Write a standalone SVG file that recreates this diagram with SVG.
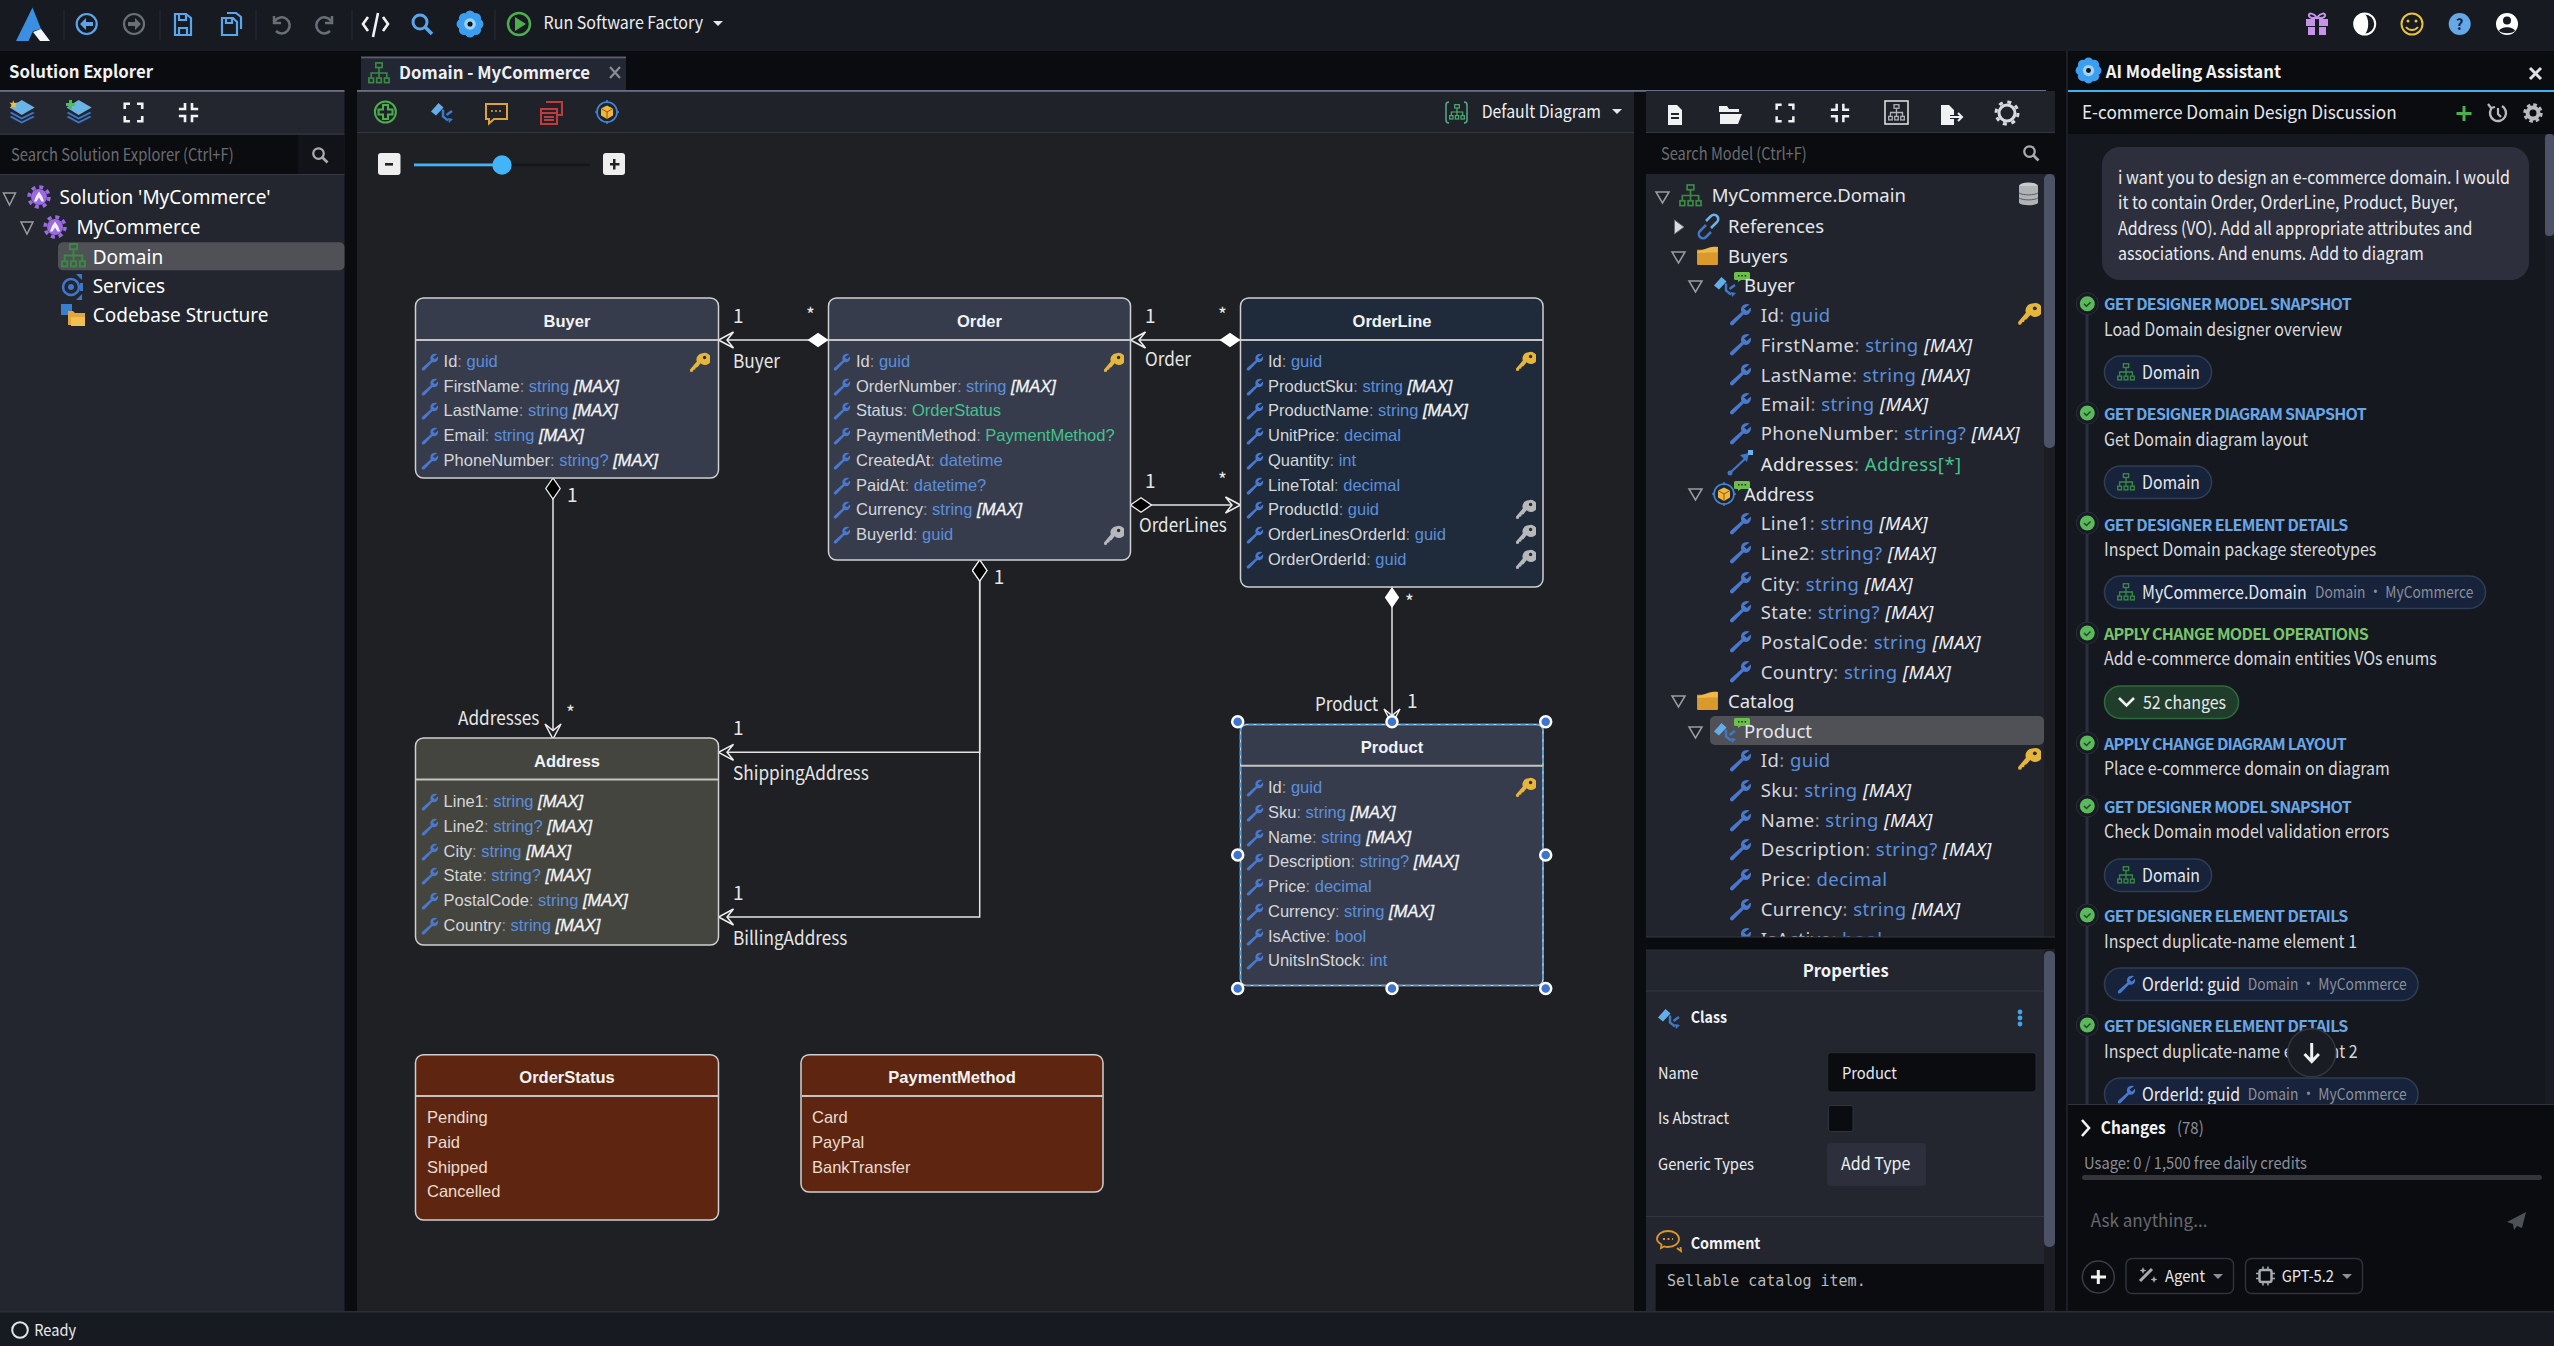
<svg xmlns="http://www.w3.org/2000/svg" width="2554" height="1346" viewBox="0 0 2554 1346">
<style>
text{white-space:pre}
.s{font-family:"Noto Sans CJK SC","Noto Sans",sans-serif}
.n{font-family:"Noto Sans",sans-serif;font-size:18.5px;fill:#e4e6ea}
.na{letter-spacing:.45px;fill:#d4d6dc}
.ns{fill:#fff;font-size:19px}
.na .m{font-weight:400;stroke:none;fill:#eceef2}
.a{font-family:"Liberation Sans",Arial,sans-serif;font-size:16.5px;fill:#d4d6da}
.h{font-family:"Liberation Sans",Arial,sans-serif;font-size:16.5px;font-weight:700;fill:#f2f2f2;text-anchor:middle}
.c{fill:#8b90a0}
.t{fill:#5b8fdc}
.e{fill:#46c28f}
.m{font-style:italic;fill:#f4f5f7;stroke:#f4f5f7;stroke-width:.3px}
.lb{font-family:"Noto Sans CJK SC","Noto Sans",sans-serif;font-size:19px;fill:#e6e6e6}
.box{stroke:#d0d0d0;stroke-width:1.5}
.sep{stroke:#c4c4c4;stroke-width:2}
.conn{fill:none;stroke:#e4e4e4;stroke-width:1.5}
.hd{fill:#f2f2f2;font-size:17.5px;font-weight:700}
.ph{fill:#6a6c72;font-size:17px}
.ttl{font-size:16px;font-weight:700;fill:#69a6e6}
.dsc{font-size:18px;fill:#d6d8dc}
.chip{fill:#17233b;stroke:#2f3d55;stroke-width:1.5}
.chipt{font-size:18px;fill:#e6e8ec}
.chipg{font-size:16.5px;fill:#8b8f98}
.tri{fill:#1d2026;stroke:#9a9ca2;stroke-width:1.5}
.sb{fill:#4d5266}
.ic{fill:none;stroke:#5aa5ec;stroke-width:2.2}
.gold{fill:#e6b63c}
.silver{fill:#b6b8bc}
.hdl{fill:#3d74d0;stroke:#fff;stroke-width:2.5}
</style>
<defs>
<symbol id="wr" viewBox="0 0 24 24"><path fill="#4a78cc" d="M21.5 1.5c-3-1.2-6.6-.4-8.2 2.4-1.1 2-1 4-.2 5.6L1.8 19.6c-1.2 1.2-1 2.6 0 3.4.9.7 2.1.5 3.1-.5L15.2 12c2 .8 4 .5 5.7-.9 1.9-1.7 2.5-4.1 1.7-6.3l-3.9 3.6-3-2.7z"/></symbol>
<symbol id="key" viewBox="0 0 24 24"><path d="M15.5 1.5a7 7 0 0 0-6.6 9.3L1 20.2l.6 2.6 2.6-.3.9-2.2 2-.4.5-2 2-.6 3.7-4.4A7 7 0 1 0 15.5 1.5z"/><circle cx="17.8" cy="6.3" r="1.9" fill="#2a2a26"/></symbol>
<symbol id="tree" viewBox="0 0 24 24"><g fill="none" stroke="currentColor" stroke-width="1.8"><rect x="8.5" y="1" width="7" height="5"/><path d="M12 6v11M3.5 17v-5h17v5"/><rect x="1" y="17.5" width="5" height="5"/><rect x="9.5" y="17.5" width="5" height="5"/><rect x="18" y="17.5" width="5" height="5"/></g></symbol>
<symbol id="cls" viewBox="0 0 24 24"><path fill="#63aee8" d="M1 11.5 8.5 3l5 4.5-7.500 8z"/><path fill="none" stroke="#3f78c8" stroke-width="2.500" d="M13 9.500v7l5 4M22 11l-5.500 4"/><path fill="#3f78c8" d="M19 23l4-4-5-1z"/></symbol>
<symbol id="vo" viewBox="0 0 24 24"><circle cx="12" cy="12" r="10" fill="#1d2430" stroke="#3f88d8" stroke-width="1.600"/><path d="M12 0v3M12 21v3M0 12h3M21 12h3" stroke="#3f88d8" stroke-width="1.500"/><path fill="#f2b63a" d="M12 5.500 18 8.500 18 15.500 12 19 6 15.500 6 8.500z"/><path fill="none" stroke="#8a5a10" stroke-width="1" d="M6 8.500 12 12 18 8.500M12 12v7"/></symbol>
<symbol id="cm" viewBox="0 0 16 10"><path fill="#6cc04a" d="M1.500 0h13a1.500 1.500 0 0 1 1.500 1.500v5A1.500 1.500 0 0 1 14.500 8H7L4 10V8H1.500A1.500 1.500 0 0 1 0 6.500v-5A1.500 1.500 0 0 1 1.500 0z"/><path fill="#1f2a1a" d="M4 3h1.500v1.500H4zM7.300 3h1.500v1.500H7.300zM10.600 3h1.500v1.500h-1.500z"/></symbol>
<symbol id="gear" viewBox="0 0 24 24"><circle cx="12" cy="12" r="8" fill="#9a6ae2"/><circle cx="12" cy="12" r="10" fill="none" stroke="#9a6ae2" stroke-width="3.500" stroke-dasharray="4 3.850"/><path fill="#f4eefc" d="M12 6.500 15 11l2 5.500h-2.500L12 12.500 9.500 16.500H7L9 11z"/></symbol>
<symbol id="flw" viewBox="0 0 24 24"><g fill="#3c9eef"><circle cx="12" cy="5" r="4.500"/><circle cx="12" cy="19" r="4.500"/><circle cx="5" cy="12" r="4.500"/><circle cx="19" cy="12" r="4.500"/><circle cx="7" cy="7" r="4.500"/><circle cx="17" cy="7" r="4.500"/><circle cx="7" cy="17" r="4.500"/><circle cx="17" cy="17" r="4.500"/></g><circle cx="12" cy="12" r="5" fill="#9ed4f8"/><circle cx="12" cy="12" r="2.200" fill="#10131a"/></symbol>
<symbol id="fld" viewBox="0 0 24 20"><path fill="#d99a2b" d="M1 4h8l2 2.500h12V19a1 1 0 0 1-1 1H2a1 1 0 0 1-1-1z"/><path fill="#f0b84a" d="M1 6 14 1.500c2-.6 7-1 9-.5v6H1z"/></symbol>
<symbol id="srch" viewBox="0 0 24 24"><circle cx="10" cy="10" r="7" fill="none" stroke="currentColor" stroke-width="3"/><path d="M15 15l7 7" stroke="currentColor" stroke-width="3.500"/></symbol>
<symbol id="exp" viewBox="0 0 24 24"><path fill="none" stroke="#f0f1f3" stroke-width="3" d="M2 8V2h6M16 2h6v6M22 16v6h-6M8 22H2v-6"/></symbol>
<symbol id="col" viewBox="0 0 24 24"><path fill="none" stroke="#f0f1f3" stroke-width="3" d="M8 1v7H1M16 1v7h7M23 16h-7v7M1 16h7v7"/></symbol>
<marker id="arr" markerUnits="userSpaceOnUse" markerWidth="18" markerHeight="20" viewBox="0 0 18 20" refX="16" refY="10" orient="auto"><path d="M16 10 1 2 7.500 10 1 18z" fill="#1f2024" stroke="#eee" stroke-width="1.500"/></marker>
<marker id="dw" markerUnits="userSpaceOnUse" markerWidth="22" markerHeight="16" viewBox="0 0 22 16" refX="0.500" refY="8" orient="auto"><path d="M.5 8 11 .8 21.500 8 11 15.200z" fill="#fff"/></marker>
<marker id="db" markerUnits="userSpaceOnUse" markerWidth="22" markerHeight="16" viewBox="0 0 22 16" refX="0.500" refY="8" orient="auto"><path d="M.5 8 11 .8 21.500 8 11 15.200z" fill="#000" stroke="#f0f0f0" stroke-width="1.300"/></marker>
<clipPath id="tc"><rect x="1646" y="174" width="398" height="763"/></clipPath>
<clipPath id="cc"><rect x="2067" y="134" width="487" height="970"/></clipPath>
</defs>

<rect width="2554" height="1346" fill="#0b0c0f"/>
<rect width="2554" height="51" fill="#171a21"/>
<rect y="1312" width="2554" height="34" fill="#171a21"/>
<rect y="1311" width="2554" height="1.500" fill="#2b2e38"/>

<g id="topbar">
<path fill="#3b8fe2" d="M32.500 7.500 41 29 33 31 28.500 41H16z"/><path fill="#f4f5f7" d="M33 32 41 29 50 41H40z"/>
<g stroke="#2a2d36" stroke-width="1"><path d="M64 10v30M160 10v30M256 10v30M352 10v30M495 10v30"/></g>
<circle cx="86.700" cy="24" r="10" class="ic"/><path fill="#5aa5ec" d="M80 24l6-6v4h7v4h-7v4z"/>
<circle cx="134" cy="24" r="10" fill="none" stroke="#6a6e76" stroke-width="2.200"/><path fill="#6a6e76" d="M141 24l-6-6v4h-7v4h7v4z"/>
<path class="ic" d="M175 14h11l5 4v17h-16zM179 14v6h7v-6M179 35v-7h8v7"/>
<path class="ic" d="M222 18h11l4 4v13h-15zM226 18v5h6v-5M227 13h9l5 4v12"/>
<path fill="none" stroke="#6a6e76" stroke-width="2.500" d="M274 16v7h7M275 21a8 8 0 1 1 1 10"/>
<path fill="none" stroke="#6a6e76" stroke-width="2.500" d="M332 16v7h-7M331 21a8 8 0 1 0-1 10"/>
<path fill="none" stroke="#f2f3f5" stroke-width="2.600" d="M368 17l-5 7 5 7M383 17l5 7-5 7M378 13l-5 24"/>
<use href="#srch" x="410" y="12" width="24" height="24" color="#5aa5ec"/>
<use href="#flw" x="456" y="10" width="28" height="28"/>
<circle cx="519" cy="24" r="11" fill="none" stroke="#4cae4c" stroke-width="2.500"/><path fill="#4cae4c" d="M515 17v14l11-7z"/>
<text x="543.600" y="29" class="s" font-size="17" fill="#eceef2" textLength="159.400" lengthAdjust="spacingAndGlyphs">Run Software Factory</text>
<path fill="#e8e8e8" d="M713 21h10l-5 5z"/>
<path fill="#c792ea" d="M2306 19h9v7h-9zM2319 19h9v7h-9zM2308 27h7v8h-7zM2319 27h7v8h-7z"/><path fill="none" stroke="#c792ea" stroke-width="2" d="M2317 18c-4-6-9-5-8-2s4 2 8 2c4 0 7 1 8-2s-4-4-8 2z"/>
<circle cx="2364.700" cy="24" r="10.500" fill="#171a21" stroke="#fff" stroke-width="2"/><path fill="#fff" d="M2364.700 13.500a10.500 10.500 0 0 0 0 21c2.500-3 3.500-6 3.500-10.500s-1-7.500-3.500-10.500z"/>
<circle cx="2412" cy="24" r="10.500" fill="none" stroke="#e8c33a" stroke-width="2"/><circle cx="2408" cy="21" r="1.500" fill="#e8c33a"/><circle cx="2416" cy="21" r="1.500" fill="#e8c33a"/><path fill="none" stroke="#e8c33a" stroke-width="2" d="M2406 27c3 4 9 4 12 0"/>
<circle cx="2459.700" cy="24" r="11" fill="#64a8e8"/><text x="2459.700" y="29.500" text-anchor="middle" class="s" font-size="15" font-weight="700" fill="#17233b">?</text>
<circle cx="2507" cy="24" r="11" fill="#fff"/><circle cx="2507" cy="20.500" r="4" fill="#171a21"/><path fill="#171a21" d="M2499 31c2-5 14-5 16 0-4 3-12 3-16 0z"/>
</g>

<g id="solution-explorer">
<rect x="0" y="91" width="344.500" height="1220" fill="#23262f"/>
<rect y="90" width="344.500" height="1.800" fill="#6a6f86"/>
<text x="9" y="78" class="s hd" textLength="144" lengthAdjust="spacingAndGlyphs">Solution Explorer</text>
<rect y="133.500" width="344.500" height="1" fill="#353842"/>
<rect y="135" width="344.500" height="39" fill="#111318"/><rect y="135" width="298" height="39" fill="#0b0c0f"/>
<rect y="174" width="344.500" height="1" fill="#353842"/>
<g>
<path fill="#6ab4e8" d="M21.700 100l13 7.500-13 7.500-12-7.500z"/><path fill="#3f78c8" d="M9.700 113l12 6.500 13-6.500-2-1-11 5.500-10-5.500zM9.700 117l12 6.500 13-6.500-2-1-11 5.500-10-5.500z"/><path fill="#e8c33a" d="M13 100l1.500 3 3-.5-2 2.500 1 3-3-1.500-3 1.500 1-3-2-2.500 3 .5z"/>
<path fill="#6ab4e8" d="M78.600 100l13 7.500-13 7.500-12-7.500z"/><path fill="#3f78c8" d="M66.600 113l12 6.500 13-6.500-2-1-11 5.500-10-5.500zM66.600 117l12 6.500 13-6.500-2-1-11 5.500-10-5.500z"/><path fill="#4cc04c" d="M69 100h3v3h3v3h-3v3h-3v-3h-3v-3h3z"/>
<use href="#exp" x="123" y="102" width="21" height="21"/>
<use href="#col" x="178" y="102" width="21" height="21"/>
</g>
<text x="11" y="160.500" class="s ph" textLength="222.600" lengthAdjust="spacingAndGlyphs">Search Solution Explorer (Ctrl+F)</text>
<use href="#srch" x="311" y="146" width="18" height="18" color="#a8aab0"/>
<path class="tri" d="M3.500 193h12l-6 12z"/>
<use href="#gear" x="27" y="185" width="24" height="24"/>
<text x="59.600" y="204" class="n ns">Solution 'MyCommerce'</text>
<path class="tri" d="M21 222h12l-6 12z"/>
<use href="#gear" x="43" y="215" width="24" height="24"/>
<text x="76.400" y="233.500" class="n ns">MyCommerce</text>
<rect x="58" y="242.300" width="286.500" height="28" rx="5" fill="#505157"/>
<use href="#tree" x="61" y="243" width="25" height="25" color="#3a8a45"/>
<text x="92.700" y="263.500" class="n ns">Domain</text>
<circle cx="71" cy="287" r="8" fill="none" stroke="#3f78c8" stroke-width="2.500"/><circle cx="71" cy="287" r="3" fill="#3f78c8"/><path fill="#3f78c8" d="M76 274h6v6zM80 283h3v8h-3zM76 300h6v-6z"/>
<text x="92.700" y="293" class="n ns">Services</text>
<rect x="61" y="304" width="11" height="11" fill="#3a7ed0"/><path fill="#e0a83a" d="M68 311h5l2 2h10v12H68z"/><path fill="#f0c050" d="M71 317h14v9H71z"/>
<text x="92.700" y="322" class="n ns">Codebase Structure</text>
</g>

<g id="canvas">
<rect x="357" y="91" width="1277" height="1220" fill="#1f2024"/>
<rect x="357" y="91" width="1277" height="41" fill="#1f2229"/>
<rect x="357" y="132" width="1277" height="1.200" fill="#33363f"/>
<rect x="357" y="90" width="1689" height="1.800" fill="#6a6f86"/>
<rect x="361" y="57" width="265" height="33" fill="#232733"/><rect x="361" y="56.500" width="265" height="1.800" fill="#5a5e6e"/>
<use href="#tree" x="368" y="62" width="22" height="22" color="#3a8a45"/>
<text x="399" y="79" class="s" font-size="17.500" font-weight="700" fill="#eef0f3" textLength="191" lengthAdjust="spacingAndGlyphs">Domain - MyCommerce</text>
<path stroke="#8a8c92" stroke-width="2.200" d="M610 67l10 11M620 67l-10 11"/>
<circle cx="385.400" cy="112" r="10.500" fill="none" stroke="#4cae4c" stroke-width="2"/><path fill="none" stroke="#4cae4c" stroke-width="2" d="M383 105h5v4.500h4.500v5H388v4.500h-5v-4.500h-4.500v-5h4.500z"/>
<use href="#cls" x="430" y="100" width="24" height="24"/>
<path fill="none" stroke="#e0a23a" stroke-width="2" d="M486 104h21v15h-13l-5 4.500v-4.500h-3z"/><path stroke="#e0a23a" stroke-width="1.500" stroke-dasharray="2 2" d="M491 111h11"/>
<path fill="none" stroke="#c43a3a" stroke-width="2" d="M546 102h16v13h-4M541 109h16v15h-16zM541 113h16M544 117h10M544 120h10"/>
<use href="#vo" x="595" y="100" width="24" height="24"/>
<rect x="378" y="153" width="22.500" height="22" rx="3" fill="#eeeeee"/><rect x="385" y="163" width="8" height="2.600" fill="#222"/>
<rect x="503" y="163.700" width="87" height="2.400" fill="#141518"/>
<rect x="414" y="163.500" width="88" height="2.800" fill="#42b4f8"/>
<circle cx="502" cy="165" r="9.700" fill="#42b4f8"/>
<rect x="603" y="153" width="22" height="22" rx="3" fill="#eeeeee"/><path fill="#222" d="M610 163h3v-4h2.500v4h4v2.500h-4v4H613v-4h-3z"/>
<path fill="none" stroke="#5aa890" stroke-width="1.500" d="M1449 102q-3 0-3 3v15q0 3 3 3M1464 102q3 0 3 3v15q0 3-3 3"/><use href="#tree" x="1449" y="104" width="16" height="16" color="#4cae70"/>
<text x="1481.700" y="118" class="s" font-size="17.500" fill="#eef0f3" textLength="119.300" lengthAdjust="spacingAndGlyphs">Default Diagram</text>
<path fill="#e8e8e8" d="M1612 109h10l-5 5z"/>
</g>

<g id="connectors" class="conn">
<path marker-start="url(#dw)" marker-end="url(#arr)" d="M828.500 340H718.500"/>
<path marker-start="url(#dw)" marker-end="url(#arr)" d="M1240.500 340H1130.500"/>
<path marker-start="url(#db)" marker-end="url(#arr)" d="M1130.500 505H1240.500"/>
<path marker-start="url(#dw)" marker-end="url(#arr)" d="M1392 587V724"/>
<path marker-start="url(#db)" marker-end="url(#arr)" d="M553 478V739"/>
<path marker-start="url(#db)" marker-end="url(#arr)" d="M979.700 560V752.300H718.500"/>
<path marker-start="url(#db)" marker-end="url(#arr)" d="M979.700 560V917H718.500"/>
</g>
<g id="connector-labels" class="lb">
<text x="733" y="323">1</text><text x="806" y="322">*</text><text x="733" y="368" textLength="47" lengthAdjust="spacingAndGlyphs">Buyer</text>
<text x="1145" y="323">1</text><text x="1218" y="322">*</text><text x="1145" y="366" textLength="46" lengthAdjust="spacingAndGlyphs">Order</text>
<text x="1145" y="488">1</text><text x="1218" y="487">*</text><text x="1139" y="531.500" textLength="87.700" lengthAdjust="spacingAndGlyphs">OrderLines</text>
<text x="1405" y="609">*</text><text x="1407" y="708">1</text><text x="1315" y="711" textLength="63.300" lengthAdjust="spacingAndGlyphs">Product</text>
<text x="567" y="502">1</text><text x="566" y="720">*</text><text x="458" y="725" textLength="81.400" lengthAdjust="spacingAndGlyphs">Addresses</text>
<text x="993.800" y="584">1</text>
<text x="733" y="735">1</text><text x="733" y="780" textLength="135.700" lengthAdjust="spacingAndGlyphs">ShippingAddress</text>
<text x="733" y="900">1</text><text x="733" y="945" textLength="114.400" lengthAdjust="spacingAndGlyphs">BillingAddress</text>
</g>

<g id="node-buyer">
<rect x="415.500" y="298" width="303" height="180" rx="8" fill="#373c4c" class="box"/>
<path class="sep" d="M416 340H718"/>
<text x="567" y="327" class="h">Buyer</text>
<use href="#wr" x="421" y="353" width="18" height="18"/><text x="443.600" y="367" class="a">Id<tspan class="c">: </tspan><tspan class="t">guid</tspan></text>
<use href="#key" x="689" y="352" width="21" height="21" class="gold"/>
<use href="#wr" x="421" y="378" width="18" height="18"/><text x="443.600" y="392" class="a">FirstName<tspan class="c">: </tspan><tspan class="t">string </tspan><tspan class="m">[MAX]</tspan></text>
<use href="#wr" x="421" y="402" width="18" height="18"/><text x="443.600" y="416" class="a">LastName<tspan class="c">: </tspan><tspan class="t">string </tspan><tspan class="m">[MAX]</tspan></text>
<use href="#wr" x="421" y="427" width="18" height="18"/><text x="443.600" y="441" class="a">Email<tspan class="c">: </tspan><tspan class="t">string </tspan><tspan class="m">[MAX]</tspan></text>
<use href="#wr" x="421" y="452" width="18" height="18"/><text x="443.600" y="466" class="a">PhoneNumber<tspan class="c">: </tspan><tspan class="t">string? </tspan><tspan class="m">[MAX]</tspan></text>
</g>

<g id="node-order">
<rect x="828.500" y="298" width="302" height="262" rx="8" fill="#373c4c" class="box"/>
<path class="sep" d="M829 340H1130"/>
<text x="979.500" y="327" class="h">Order</text>
<use href="#wr" x="833" y="353" width="18" height="18"/><text x="856" y="367" class="a">Id<tspan class="c">: </tspan><tspan class="t">guid</tspan></text>
<use href="#key" x="1103" y="352" width="21" height="21" class="gold"/>
<use href="#wr" x="833" y="378" width="18" height="18"/><text x="856" y="392" class="a">OrderNumber<tspan class="c">: </tspan><tspan class="t">string </tspan><tspan class="m">[MAX]</tspan></text>
<use href="#wr" x="833" y="402" width="18" height="18"/><text x="856" y="416" class="a">Status<tspan class="c">: </tspan><tspan class="e">OrderStatus</tspan></text>
<use href="#wr" x="833" y="427" width="18" height="18"/><text x="856" y="441" class="a">PaymentMethod<tspan class="c">: </tspan><tspan class="e">PaymentMethod?</tspan></text>
<use href="#wr" x="833" y="452" width="18" height="18"/><text x="856" y="466" class="a">CreatedAt<tspan class="c">: </tspan><tspan class="t">datetime</tspan></text>
<use href="#wr" x="833" y="477" width="18" height="18"/><text x="856" y="491" class="a">PaidAt<tspan class="c">: </tspan><tspan class="t">datetime?</tspan></text>
<use href="#wr" x="833" y="501" width="18" height="18"/><text x="856" y="515" class="a">Currency<tspan class="c">: </tspan><tspan class="t">string </tspan><tspan class="m">[MAX]</tspan></text>
<use href="#wr" x="833" y="526" width="18" height="18"/><text x="856" y="540" class="a">BuyerId<tspan class="c">: </tspan><tspan class="t">guid</tspan></text>
<use href="#key" x="1103" y="525" width="21" height="21" class="silver"/>
</g>

<g id="node-orderline">
<rect x="1240.500" y="298" width="302.500" height="289" rx="8" fill="#1f2a3a" class="box"/>
<path class="sep" d="M1241 340H1543"/>
<text x="1392" y="327" class="h">OrderLine</text>
<use href="#wr" x="1246" y="353" width="18" height="18"/><text x="1268" y="367" class="a">Id<tspan class="c">: </tspan><tspan class="t">guid</tspan></text>
<use href="#key" x="1515" y="351" width="21" height="21" class="gold"/>
<use href="#wr" x="1246" y="378" width="18" height="18"/><text x="1268" y="392" class="a">ProductSku<tspan class="c">: </tspan><tspan class="t">string </tspan><tspan class="m">[MAX]</tspan></text>
<use href="#wr" x="1246" y="402" width="18" height="18"/><text x="1268" y="416" class="a">ProductName<tspan class="c">: </tspan><tspan class="t">string </tspan><tspan class="m">[MAX]</tspan></text>
<use href="#wr" x="1246" y="427" width="18" height="18"/><text x="1268" y="441" class="a">UnitPrice<tspan class="c">: </tspan><tspan class="t">decimal</tspan></text>
<use href="#wr" x="1246" y="452" width="18" height="18"/><text x="1268" y="466" class="a">Quantity<tspan class="c">: </tspan><tspan class="t">int</tspan></text>
<use href="#wr" x="1246" y="477" width="18" height="18"/><text x="1268" y="491" class="a">LineTotal<tspan class="c">: </tspan><tspan class="t">decimal</tspan></text>
<use href="#wr" x="1246" y="501" width="18" height="18"/><text x="1268" y="515" class="a">ProductId<tspan class="c">: </tspan><tspan class="t">guid</tspan></text>
<use href="#key" x="1515" y="499" width="21" height="21" class="silver"/>
<use href="#wr" x="1246" y="526" width="18" height="18"/><text x="1268" y="540" class="a">OrderLinesOrderId<tspan class="c">: </tspan><tspan class="t">guid</tspan></text>
<use href="#key" x="1515" y="524" width="21" height="21" class="silver"/>
<use href="#wr" x="1246" y="551" width="18" height="18"/><text x="1268" y="565" class="a">OrderOrderId<tspan class="c">: </tspan><tspan class="t">guid</tspan></text>
<use href="#key" x="1515" y="549" width="21" height="21" class="silver"/>
</g>

<g id="node-address">
<rect x="415.500" y="738" width="303" height="207" rx="8" fill="#45453f" class="box"/>
<path class="sep" d="M416 779.500H718"/>
<text x="567" y="767" class="h">Address</text>
<use href="#wr" x="421" y="793" width="18" height="18"/><text x="443.600" y="807" class="a">Line1<tspan class="c">: </tspan><tspan class="t">string </tspan><tspan class="m">[MAX]</tspan></text>
<use href="#wr" x="421" y="818" width="18" height="18"/><text x="443.600" y="832" class="a">Line2<tspan class="c">: </tspan><tspan class="t">string? </tspan><tspan class="m">[MAX]</tspan></text>
<use href="#wr" x="421" y="843" width="18" height="18"/><text x="443.600" y="857" class="a">City<tspan class="c">: </tspan><tspan class="t">string </tspan><tspan class="m">[MAX]</tspan></text>
<use href="#wr" x="421" y="867" width="18" height="18"/><text x="443.600" y="881" class="a">State<tspan class="c">: </tspan><tspan class="t">string? </tspan><tspan class="m">[MAX]</tspan></text>
<use href="#wr" x="421" y="892" width="18" height="18"/><text x="443.600" y="906" class="a">PostalCode<tspan class="c">: </tspan><tspan class="t">string </tspan><tspan class="m">[MAX]</tspan></text>
<use href="#wr" x="421" y="917" width="18" height="18"/><text x="443.600" y="931" class="a">Country<tspan class="c">: </tspan><tspan class="t">string </tspan><tspan class="m">[MAX]</tspan></text>
</g>

<g id="node-product">
<rect x="1240.500" y="724.500" width="302.500" height="261" rx="6" fill="#373c4c" stroke="#d0d0d0" stroke-width="1.500"/>
<rect x="1240.500" y="724.500" width="302.500" height="261" fill="none" stroke="#3f9fe8" stroke-width="1.500" stroke-dasharray="5 3"/>
<path class="sep" d="M1241 765.800H1543"/>
<text x="1392" y="753" class="h">Product</text>
<use href="#wr" x="1246" y="779" width="18" height="18"/><text x="1268" y="793" class="a">Id<tspan class="c">: </tspan><tspan class="t">guid</tspan></text>
<use href="#key" x="1515" y="777" width="21" height="21" class="gold"/>
<use href="#wr" x="1246" y="804" width="18" height="18"/><text x="1268" y="818" class="a">Sku<tspan class="c">: </tspan><tspan class="t">string </tspan><tspan class="m">[MAX]</tspan></text>
<use href="#wr" x="1246" y="829" width="18" height="18"/><text x="1268" y="843" class="a">Name<tspan class="c">: </tspan><tspan class="t">string </tspan><tspan class="m">[MAX]</tspan></text>
<use href="#wr" x="1246" y="853" width="18" height="18"/><text x="1268" y="867" class="a">Description<tspan class="c">: </tspan><tspan class="t">string? </tspan><tspan class="m">[MAX]</tspan></text>
<use href="#wr" x="1246" y="878" width="18" height="18"/><text x="1268" y="892" class="a">Price<tspan class="c">: </tspan><tspan class="t">decimal</tspan></text>
<use href="#wr" x="1246" y="903" width="18" height="18"/><text x="1268" y="917" class="a">Currency<tspan class="c">: </tspan><tspan class="t">string </tspan><tspan class="m">[MAX]</tspan></text>
<use href="#wr" x="1246" y="928" width="18" height="18"/><text x="1268" y="942" class="a">IsActive<tspan class="c">: </tspan><tspan class="t">bool</tspan></text>
<use href="#wr" x="1246" y="952" width="18" height="18"/><text x="1268" y="966" class="a">UnitsInStock<tspan class="c">: </tspan><tspan class="t">int</tspan></text>
<g class="hdl"><circle cx="1237.700" cy="721.700" r="5.500"/><circle cx="1392" cy="721.700" r="5.500"/><circle cx="1545.700" cy="721.700" r="5.500"/><circle cx="1237.700" cy="855" r="5.500"/><circle cx="1545.700" cy="855" r="5.500"/><circle cx="1237.700" cy="988.500" r="5.500"/><circle cx="1392" cy="988.500" r="5.500"/><circle cx="1545.700" cy="988.500" r="5.500"/></g>
</g>

<g id="node-orderstatus">
<rect x="415.500" y="1054.700" width="303" height="165.300" rx="8" fill="#5e2611" class="box"/>
<path class="sep" d="M416 1096H718"/>
<text x="567" y="1083" class="h">OrderStatus</text>
<text x="427" y="1123" class="a" style="fill:#ecdcd0">Pending</text>
<text x="427" y="1148" class="a" style="fill:#ecdcd0">Paid</text>
<text x="427" y="1173" class="a" style="fill:#ecdcd0">Shipped</text>
<text x="427" y="1197" class="a" style="fill:#ecdcd0">Cancelled</text>
</g>
<g id="node-paymentmethod">
<rect x="801" y="1054.700" width="302" height="137.300" rx="8" fill="#5e2611" class="box"/>
<path class="sep" d="M802 1096H1103"/>
<text x="952" y="1083" class="h">PaymentMethod</text>
<text x="812" y="1123" class="a" style="fill:#ecdcd0">Card</text>
<text x="812" y="1148" class="a" style="fill:#ecdcd0">PayPal</text>
<text x="812" y="1173" class="a" style="fill:#ecdcd0">BankTransfer</text>
</g>

<g id="model-panel">
<rect x="1646" y="91" width="409" height="41" fill="#1f2229"/>
<rect x="1646" y="132" width="409" height="1.200" fill="#33363f"/>
<rect x="1646" y="133" width="409" height="41" fill="#0b0c0f"/>
<rect x="1646" y="174" width="409" height="763" fill="#21242d"/>
<rect x="1646" y="950" width="409" height="361" fill="#23262f"/>
<path fill="#f0f1f3" d="M1668 105h9l5 5v15h-14zM1671 113v2h8v-2zM1671 117v2h8v-2z"/>
<path fill="#f0f1f3" d="M1719 106h8l2 3h10v3h-20zM1720 114h22l-4 10h-18z"/>
<use href="#exp" x="1775" y="103" width="20" height="20"/>
<use href="#col" x="1830" y="103" width="20" height="20"/>
<rect x="1885" y="101" width="23" height="23" fill="none" stroke="#e8e8e8" stroke-width="1.500"/><use href="#tree" x="1888" y="104" width="17" height="17" color="#b0b4ba"/>
<path fill="#f0f1f3" d="M1941 105h8l5 5v5h-4v4h4v6h-13z"/><path fill="none" stroke="#f0f1f3" stroke-width="2" d="M1950 117h12M1958 113l4 4-4 4"/>
<circle cx="2007" cy="113" r="8" fill="none" stroke="#d8dade" stroke-width="3" /><circle cx="2007" cy="113" r="11" fill="none" stroke="#d8dade" stroke-width="3" stroke-dasharray="4 4.640"/>
<text x="1661" y="159.500" class="s ph" textLength="145.700" lengthAdjust="spacingAndGlyphs">Search Model (Ctrl+F)</text>
<use href="#srch" x="2022" y="144" width="18" height="18" color="#a8aab0"/>
<rect x="2044" y="174" width="11" height="763" fill="#1b1d23"/>
<rect x="2044" y="174" width="11" height="274" rx="5" class="sb"/>
<g clip-path="url(#tc)">
<path class="tri" d="M1656 192h13l-6.500 11z"/><use href="#tree" x="1679" y="184" width="23" height="23" color="#3a8a45"/><text x="1711.700" y="202" class="n">MyCommerce.Domain</text>
<ellipse cx="2028.500" cy="186" rx="9.500" ry="3.500" fill="#c8cacc"/><path fill="#b0b2b6" d="M2019 186h19v17c-3 3-16 3-19 0z"/><path stroke="#5a5c60" d="M2019 193c4 2.500 15 2.500 19 0M2019 198c4 2.500 15 2.500 19 0" fill="none"/>
<path fill="#d8dade" stroke="#6a6c72" d="M1674.500 220l9.500 7-9.500 7z"/>
<path fill="none" stroke="#3f78c8" stroke-width="2.500" d="M1706 225l-6 6a4 4 0 0 0 6 6l5-5"/><path fill="none" stroke="#6ab4e8" stroke-width="2.500" d="M1711 228l6-6a4 4 0 0 0-6-6l-5 5"/>
<text x="1728" y="233" class="n">References</text>
<path class="tri" d="M1672 252h13l-6.500 11z"/><use href="#fld" x="1696" y="246" width="23" height="19"/><text x="1728" y="263" class="n">Buyers</text>
<path class="tri" d="M1689 281h13l-6.500 11z"/><use href="#cls" x="1713" y="274" width="24" height="24"/><use href="#cm" x="1734" y="272" width="16" height="10"/><text x="1744" y="292" class="n">Buyer</text>
<use href="#wr" x="1729" y="303" width="23" height="23"/><text x="1760.700" y="322" class="n na">Id<tspan class="c">: </tspan><tspan class="t">guid</tspan></text><use href="#key" x="2017" y="302" width="24" height="24" class="gold"/>
<use href="#wr" x="1729" y="333" width="23" height="23"/><text x="1760.700" y="352" class="n na">FirstName<tspan class="c">: </tspan><tspan class="t">string </tspan><tspan class="m">[MAX]</tspan></text>
<use href="#wr" x="1729" y="363" width="23" height="23"/><text x="1760.700" y="381.500" class="n na">LastName<tspan class="c">: </tspan><tspan class="t">string </tspan><tspan class="m">[MAX]</tspan></text>
<use href="#wr" x="1729" y="392" width="23" height="23"/><text x="1760.700" y="411" class="n na">Email<tspan class="c">: </tspan><tspan class="t">string </tspan><tspan class="m">[MAX]</tspan></text>
<use href="#wr" x="1729" y="422" width="23" height="23"/><text x="1760.700" y="440" class="n na">PhoneNumber<tspan class="c">: </tspan><tspan class="t">string? </tspan><tspan class="m">[MAX]</tspan></text>
<path fill="none" stroke="#3f78c8" stroke-width="2.200" d="M1731 472l16-15"/><path fill="#3f78c8" d="M1749 453l-2 9-7-7z"/><circle cx="1730" cy="473" r="2.500" fill="#3f78c8"/><rect x="1748" y="450" width="5" height="5" fill="#6ab4e8"/>
<text x="1760.700" y="470.500" class="n na" style="fill:#e4e6ea">Addresses<tspan class="c">: </tspan><tspan class="e">Address[*]</tspan></text>
<path class="tri" d="M1689 489h13l-6.500 11z"/><use href="#vo" x="1712" y="482" width="24" height="24"/><use href="#cm" x="1734" y="481" width="16" height="10"/><text x="1744" y="500.500" class="n">Address</text>
<use href="#wr" x="1729" y="512" width="23" height="23"/><text x="1760.700" y="530" class="n na">Line1<tspan class="c">: </tspan><tspan class="t">string </tspan><tspan class="m">[MAX]</tspan></text>
<use href="#wr" x="1729" y="541" width="23" height="23"/><text x="1760.700" y="559.500" class="n na">Line2<tspan class="c">: </tspan><tspan class="t">string? </tspan><tspan class="m">[MAX]</tspan></text>
<use href="#wr" x="1729" y="571" width="23" height="23"/><text x="1760.700" y="590.500" class="n na">City<tspan class="c">: </tspan><tspan class="t">string </tspan><tspan class="m">[MAX]</tspan></text>
<use href="#wr" x="1729" y="600" width="23" height="23"/><text x="1760.700" y="619" class="n na">State<tspan class="c">: </tspan><tspan class="t">string? </tspan><tspan class="m">[MAX]</tspan></text>
<use href="#wr" x="1729" y="630" width="23" height="23"/><text x="1760.700" y="649" class="n na">PostalCode<tspan class="c">: </tspan><tspan class="t">string </tspan><tspan class="m">[MAX]</tspan></text>
<use href="#wr" x="1729" y="660" width="23" height="23"/><text x="1760.700" y="679" class="n na">Country<tspan class="c">: </tspan><tspan class="t">string </tspan><tspan class="m">[MAX]</tspan></text>
<path class="tri" d="M1672 696h13l-6.500 11z"/><use href="#fld" x="1696" y="691" width="23" height="19"/><text x="1728" y="708" class="n">Catalog</text>
<rect x="1710" y="716" width="334" height="29" rx="5" fill="#505157"/>
<path class="tri" d="M1689 727h13l-6.500 11z"/><use href="#cls" x="1713" y="720" width="24" height="24"/><use href="#cm" x="1734" y="718" width="16" height="10"/><text x="1744" y="738" class="n">Product</text>
<use href="#wr" x="1729" y="749" width="23" height="23"/><text x="1760.700" y="767" class="n na">Id<tspan class="c">: </tspan><tspan class="t">guid</tspan></text><use href="#key" x="2017" y="747" width="24" height="24" class="gold"/>
<use href="#wr" x="1729" y="779" width="23" height="23"/><text x="1760.700" y="797" class="n na">Sku<tspan class="c">: </tspan><tspan class="t">string </tspan><tspan class="m">[MAX]</tspan></text>
<use href="#wr" x="1729" y="809" width="23" height="23"/><text x="1760.700" y="827" class="n na">Name<tspan class="c">: </tspan><tspan class="t">string </tspan><tspan class="m">[MAX]</tspan></text>
<use href="#wr" x="1729" y="838" width="23" height="23"/><text x="1760.700" y="855.500" class="n na">Description<tspan class="c">: </tspan><tspan class="t">string? </tspan><tspan class="m">[MAX]</tspan></text>
<use href="#wr" x="1729" y="868" width="23" height="23"/><text x="1760.700" y="886" class="n na">Price<tspan class="c">: </tspan><tspan class="t">decimal</tspan></text>
<use href="#wr" x="1729" y="898" width="23" height="23"/><text x="1760.700" y="916" class="n na">Currency<tspan class="c">: </tspan><tspan class="t">string </tspan><tspan class="m">[MAX]</tspan></text>
<use href="#wr" x="1729" y="927" width="23" height="23"/><text x="1760.700" y="946" class="n na">IsActive<tspan class="c">: </tspan><tspan class="t">bool</tspan></text>
</g>
<rect x="1646" y="936.500" width="409" height="1" fill="#33363f"/>
<rect x="1646" y="949.500" width="409" height="1" fill="#2b2e38"/>
</g>

<g id="properties">
<text x="1802.700" y="977" class="s" font-size="17.500" font-weight="700" fill="#f2f3f5" textLength="86" lengthAdjust="spacingAndGlyphs">Properties</text>
<rect x="1646" y="990.500" width="398" height="1" fill="#33363f"/>
<use href="#cls" x="1657" y="1006" width="24" height="24"/>
<text x="1690.700" y="1023" class="s" font-size="15.500" font-weight="700" fill="#f2f3f5" textLength="36.300" lengthAdjust="spacingAndGlyphs">Class</text>
<g fill="#42a5ea"><circle cx="2020" cy="1012" r="2.400"/><circle cx="2020" cy="1018" r="2.400"/><circle cx="2020" cy="1024" r="2.400"/></g>
<text x="1658" y="1078.500" class="s" font-size="16" fill="#e8eaee" textLength="40.300" lengthAdjust="spacingAndGlyphs">Name</text>
<rect x="1827.700" y="1052.700" width="208.300" height="39.300" rx="3" fill="#0b0c0f" stroke="#2a2d36"/>
<text x="1842" y="1078.500" class="s" font-size="16" fill="#e8eaee" textLength="54.700" lengthAdjust="spacingAndGlyphs">Product</text>
<text x="1658" y="1124" class="s" font-size="16" fill="#e8eaee" textLength="71" lengthAdjust="spacingAndGlyphs">Is Abstract</text>
<rect x="1828.500" y="1105.500" width="24.500" height="26" rx="2" fill="#0b0c0f" stroke="#2f3340"/>
<text x="1658" y="1170" class="s" font-size="16" fill="#e8eaee" textLength="96" lengthAdjust="spacingAndGlyphs">Generic Types</text>
<rect x="1827" y="1143" width="99" height="43" rx="4" fill="#2d303c"/>
<text x="1841" y="1170" class="s" font-size="17.500" fill="#eef0f3" textLength="69.300" lengthAdjust="spacingAndGlyphs">Add Type</text>
<rect x="1646" y="1216" width="398" height="1" fill="#33363f"/>
<path fill="none" stroke="#d9962b" stroke-width="1.800" d="M1668 1231c6 0 11 3.500 11 8s-5 8-11 8c-1.500 0-3-.2-4-.6l-3 1.600.5-3.500c-2.500-1.500-4.500-3.500-4.500-5.500 0-4.500 5-8 11-8zM1677 1248c1.500 1.500 3 2.200 4 3l-.5-4"/>
<path stroke="#d9962b" stroke-width="1.800" stroke-dasharray="2 2.500" d="M1663 1239h10"/>
<text x="1690.700" y="1248.500" class="s" font-size="15.500" font-weight="700" fill="#f2f3f5" textLength="69.700" lengthAdjust="spacingAndGlyphs">Comment</text>
<rect x="1655.700" y="1264" width="388.300" height="47" fill="#0b0c0f"/>
<text x="1667" y="1285.500" font-family="DejaVu Sans Mono,monospace" font-size="15" fill="#b8babe">Sellable catalog item.</text>
<rect x="2044" y="950" width="11" height="361" fill="#1b1d23"/>
<rect x="2044" y="951" width="11" height="296" rx="5" class="sb"/>
</g>

<g id="ai-panel">
<rect x="2067" y="91" width="487" height="1220" fill="#0b0c0f"/>
<rect x="2066.500" y="51" width="1" height="1260" fill="#2f3340"/>
<rect x="2068" y="90" width="486" height="2" fill="#3fb1f0"/>
<use href="#flw" x="2075" y="57" width="27" height="27"/>
<text x="2105.700" y="78" class="s hd" textLength="175.300" lengthAdjust="spacingAndGlyphs">AI Modeling Assistant</text>
<path stroke="#dfe1e5" stroke-width="3" d="M2530 68l11 11M2541 68l-11 11"/>
<text x="2082" y="119" class="s" font-size="18" fill="#e4e6ea" textLength="314.700" lengthAdjust="spacingAndGlyphs">E-commerce Domain Design Discussion</text>
<path stroke="#4cae4c" stroke-width="3" d="M2464 106v15M2456.500 113.500h15"/>
<circle cx="2498" cy="113" r="8" fill="none" stroke="#b8babf" stroke-width="2.400" stroke-dasharray="38 12" transform="rotate(-60 2498 113)"/><path stroke="#b8babf" stroke-width="2.200" fill="none" d="M2488 104l3 4 4-1M2498 108v6l3 3"/>
<circle cx="2533" cy="113" r="5.500" fill="none" stroke="#b8babf" stroke-width="4"/><circle cx="2533" cy="113" r="8" fill="none" stroke="#b8babf" stroke-width="3.500" stroke-dasharray="3.500 2.780"/>
<rect x="2068" y="134" width="486" height="970" fill="#16181f"/>
<rect x="2545" y="134" width="9" height="970" fill="#1a1c23"/>
<rect x="2545" y="134" width="9" height="102" rx="4" class="sb"/>
<rect x="2102" y="147" width="427" height="133" rx="18" fill="#2d303c"/>
<g class="s" font-size="18" fill="#e8eaee">
<text x="2118" y="183.500" textLength="392" lengthAdjust="spacingAndGlyphs">i want you to design an e-commerce domain. I would</text>
<text x="2118" y="208.500" textLength="339.700" lengthAdjust="spacingAndGlyphs">it to contain Order, OrderLine, Product, Buyer,</text>
<text x="2118" y="234.500" textLength="354.300" lengthAdjust="spacingAndGlyphs">Address (VO). Add all appropriate attributes and</text>
<text x="2118" y="259.500" textLength="305.700" lengthAdjust="spacingAndGlyphs">associations. And enums. Add to diagram</text>
</g>
<g clip-path="url(#cc)">
<rect x="2085.500" y="304" width="3" height="810" fill="#2a3042"/>
<g class="s">
<g><circle cx="2087.300" cy="303.700" r="11" fill="#171a22" stroke="#2a2f3d"/><circle cx="2087.300" cy="303.700" r="7.500" fill="#5cb85c"/><path stroke="#1f4a22" stroke-width="1.500" fill="none" d="M2084 303.700l2.500 2.500 4-4"/>
<text x="2104" y="310.300" class="ttl" textLength="247.700" lengthAdjust="spacing">GET DESIGNER MODEL SNAPSHOT</text><text x="2104" y="336" class="dsc" textLength="238" lengthAdjust="spacingAndGlyphs">Load Domain designer overview</text>
<rect x="2104.500" y="356" width="107" height="32.500" rx="16" class="chip"/><use href="#tree" x="2117" y="363" width="18" height="18" color="#3a8a45"/><text x="2142" y="378.500" class="chipt" textLength="58" lengthAdjust="spacingAndGlyphs">Domain</text></g>
<g><circle cx="2087.300" cy="413" r="11" fill="#171a22" stroke="#2a2f3d"/><circle cx="2087.300" cy="413" r="7.500" fill="#5cb85c"/><path stroke="#1f4a22" stroke-width="1.500" fill="none" d="M2084 413l2.500 2.500 4-4"/>
<text x="2104" y="420" class="ttl" textLength="262.700" lengthAdjust="spacing">GET DESIGNER DIAGRAM SNAPSHOT</text><text x="2104" y="446" class="dsc" textLength="204" lengthAdjust="spacingAndGlyphs">Get Domain diagram layout</text>
<rect x="2104.500" y="466" width="107" height="32.500" rx="16" class="chip"/><use href="#tree" x="2117" y="473" width="18" height="18" color="#3a8a45"/><text x="2142" y="488.500" class="chipt" textLength="58" lengthAdjust="spacingAndGlyphs">Domain</text></g>
<g><circle cx="2087.300" cy="523" r="11" fill="#171a22" stroke="#2a2f3d"/><circle cx="2087.300" cy="523" r="7.500" fill="#5cb85c"/><path stroke="#1f4a22" stroke-width="1.500" fill="none" d="M2084 523l2.500 2.500 4-4"/>
<text x="2104" y="531" class="ttl" textLength="244.300" lengthAdjust="spacing">GET DESIGNER ELEMENT DETAILS</text><text x="2104" y="556" class="dsc" textLength="272.300" lengthAdjust="spacingAndGlyphs">Inspect Domain package stereotypes</text>
<rect x="2104.500" y="576" width="381" height="32.500" rx="16" class="chip"/><use href="#tree" x="2117" y="583" width="18" height="18" color="#3a8a45"/><text x="2142" y="598.500" class="chipt" textLength="164.700" lengthAdjust="spacingAndGlyphs">MyCommerce.Domain</text><text x="2315" y="598" class="chipg" textLength="158.300" lengthAdjust="spacingAndGlyphs">Domain · MyCommerce</text></g>
<g><circle cx="2087.300" cy="633" r="11" fill="#171a22" stroke="#2a2f3d"/><circle cx="2087.300" cy="633" r="7.500" fill="#5cb85c"/><path stroke="#1f4a22" stroke-width="1.500" fill="none" d="M2084 633l2.500 2.500 4-4"/>
<text x="2104" y="640.300" class="ttl" style="fill:#77c56c" textLength="264.700" lengthAdjust="spacing">APPLY CHANGE MODEL OPERATIONS</text><text x="2104" y="665" class="dsc" textLength="332.700" lengthAdjust="spacingAndGlyphs">Add e-commerce domain entities VOs enums</text>
<rect x="2104.500" y="686" width="134" height="32.500" rx="16" fill="#1f3d2a" stroke="#2e6b3c" stroke-width="1.500"/><path fill="none" stroke="#f0f1f3" stroke-width="2.600" d="M2119 698l7.500 7.500 7.500-7.500"/><text x="2143" y="708.500" class="chipt" textLength="83" lengthAdjust="spacingAndGlyphs">52 changes</text></g>
<g><circle cx="2087.300" cy="743" r="11" fill="#171a22" stroke="#2a2f3d"/><circle cx="2087.300" cy="743" r="7.500" fill="#5cb85c"/><path stroke="#1f4a22" stroke-width="1.500" fill="none" d="M2084 743l2.500 2.500 4-4"/>
<text x="2104" y="750.300" class="ttl" textLength="242.700" lengthAdjust="spacing">APPLY CHANGE DIAGRAM LAYOUT</text><text x="2104" y="775" class="dsc" textLength="285.700" lengthAdjust="spacingAndGlyphs">Place e-commerce domain on diagram</text></g>
<g><circle cx="2087.300" cy="806" r="11" fill="#171a22" stroke="#2a2f3d"/><circle cx="2087.300" cy="806" r="7.500" fill="#5cb85c"/><path stroke="#1f4a22" stroke-width="1.500" fill="none" d="M2084 806l2.500 2.500 4-4"/>
<text x="2104" y="813.300" class="ttl" textLength="247.700" lengthAdjust="spacing">GET DESIGNER MODEL SNAPSHOT</text><text x="2104" y="838" class="dsc" textLength="285.300" lengthAdjust="spacingAndGlyphs">Check Domain model validation errors</text>
<rect x="2104.500" y="859" width="107" height="32.500" rx="16" class="chip"/><use href="#tree" x="2117" y="866" width="18" height="18" color="#3a8a45"/><text x="2142" y="881.500" class="chipt" textLength="58" lengthAdjust="spacingAndGlyphs">Domain</text></g>
<g><circle cx="2087.300" cy="915" r="11" fill="#171a22" stroke="#2a2f3d"/><circle cx="2087.300" cy="915" r="7.500" fill="#5cb85c"/><path stroke="#1f4a22" stroke-width="1.500" fill="none" d="M2084 915l2.500 2.500 4-4"/>
<text x="2104" y="922.300" class="ttl" textLength="244.300" lengthAdjust="spacing">GET DESIGNER ELEMENT DETAILS</text><text x="2104" y="948" class="dsc" textLength="253" lengthAdjust="spacingAndGlyphs">Inspect duplicate-name element 1</text>
<rect x="2104.500" y="968" width="313.500" height="32.500" rx="16" class="chip"/><use href="#wr" x="2117" y="975" width="19" height="19"/><text x="2142" y="990.500" class="chipt" textLength="98" lengthAdjust="spacingAndGlyphs">OrderId: guid</text><text x="2247.700" y="990" class="chipg" textLength="159" lengthAdjust="spacingAndGlyphs">Domain · MyCommerce</text></g>
<g><circle cx="2087.300" cy="1025" r="11" fill="#171a22" stroke="#2a2f3d"/><circle cx="2087.300" cy="1025" r="7.500" fill="#5cb85c"/><path stroke="#1f4a22" stroke-width="1.500" fill="none" d="M2084 1025l2.500 2.500 4-4"/>
<text x="2104" y="1032.300" class="ttl" textLength="244.300" lengthAdjust="spacing">GET DESIGNER ELEMENT DETAILS</text><text x="2104" y="1058" class="dsc" textLength="253.700" lengthAdjust="spacingAndGlyphs">Inspect duplicate-name element 2</text>
<rect x="2104.500" y="1078" width="313.500" height="32.500" rx="16" class="chip"/><use href="#wr" x="2117" y="1085" width="19" height="19"/><text x="2142" y="1100.500" class="chipt" textLength="98" lengthAdjust="spacingAndGlyphs">OrderId: guid</text><text x="2247.700" y="1100" class="chipg" textLength="159" lengthAdjust="spacingAndGlyphs">Domain · MyCommerce</text></g>
</g>
</g>
<circle cx="2311.700" cy="1052.700" r="24" fill="#1a1c23" stroke="#33363f" stroke-width="1.500"/>
<path fill="none" stroke="#f0f1f3" stroke-width="3" d="M2311.700 1043v18M2304.500 1054l7.200 7.500 7.200-7.500"/>
<rect x="2068" y="1104" width="486" height="207" fill="#0b0c0f"/>
<rect x="2068" y="1104" width="486" height="1" fill="#2f323c"/>
<path fill="none" stroke="#f2f3f5" stroke-width="2.600" d="M2082 1120l7 8-7 8"/>
<text x="2100.700" y="1134" class="s" font-size="17" font-weight="700" fill="#f2f3f5" textLength="65" lengthAdjust="spacingAndGlyphs">Changes</text>
<text x="2177" y="1134" class="s" font-size="17" fill="#8b8f98" textLength="26.700" lengthAdjust="spacingAndGlyphs">(78)</text>
<text x="2084" y="1168.500" class="s" font-size="16.500" fill="#8b8f98" textLength="223" lengthAdjust="spacingAndGlyphs">Usage: 0 / 1,500 free daily credits</text>
<rect x="2082" y="1175" width="460" height="5" rx="2.500" fill="#33353b"/>
<text x="2090.700" y="1227" class="s" font-size="18" fill="#666970" textLength="116.700" lengthAdjust="spacingAndGlyphs">Ask anything...</text>
<path fill="#4e5157" d="M2526 1212l-19 10 6 2 1 6 3-4 5 2z"/>
<circle cx="2098.300" cy="1277" r="16" fill="none" stroke="#3a3d46" stroke-width="1.500"/>
<path stroke="#f2f3f5" stroke-width="3" d="M2098.300 1270v14M2091 1277h15"/>
<rect x="2126" y="1258.500" width="107.500" height="35" rx="6" fill="none" stroke="#2f323c" stroke-width="1.500"/>
<path stroke="#a8abb0" stroke-width="3" d="M2140 1281l12-12"/><path fill="#a8abb0" d="M2143 1267l1 2.500 2.500 1-2.500 1-1 2.500-1-2.500-2.500-1 2.500-1zM2154 1276l1 2.500 2.500 1-2.500 1-1 2.500-1-2.500-2.500-1 2.500-1z"/>
<text x="2165" y="1282" class="s" font-size="16.500" fill="#e6e8ec" textLength="40" lengthAdjust="spacingAndGlyphs">Agent</text>
<path fill="#8b8f98" d="M2213 1274h10l-5 5z"/>
<rect x="2245.500" y="1258.500" width="117" height="35" rx="6" fill="none" stroke="#2f323c" stroke-width="1.500"/>
<rect x="2259.500" y="1270" width="12" height="12" rx="2" fill="none" stroke="#a8abb0" stroke-width="2.500"/><path stroke="#a8abb0" stroke-width="1.500" d="M2263 1266.500v3M2268 1266.500v3M2263 1282.500v3M2268 1282.500v3M2256 1273.500h3M2256 1278.500h3M2272 1273.500h3M2272 1278.500h3"/>
<text x="2281.700" y="1282" class="s" font-size="16.500" fill="#e6e8ec" textLength="52.300" lengthAdjust="spacingAndGlyphs">GPT-5.2</text>
<path fill="#8b8f98" d="M2342 1274h10l-5 5z"/>
</g>

<g id="statusbar">
<circle cx="20" cy="1330" r="7.800" fill="none" stroke="#dfe8f2" stroke-width="2"/>
<text x="34.300" y="1335.500" class="s" font-size="15.500" fill="#e8eaee" textLength="41.700" lengthAdjust="spacingAndGlyphs">Ready</text>
</g>
</svg>
